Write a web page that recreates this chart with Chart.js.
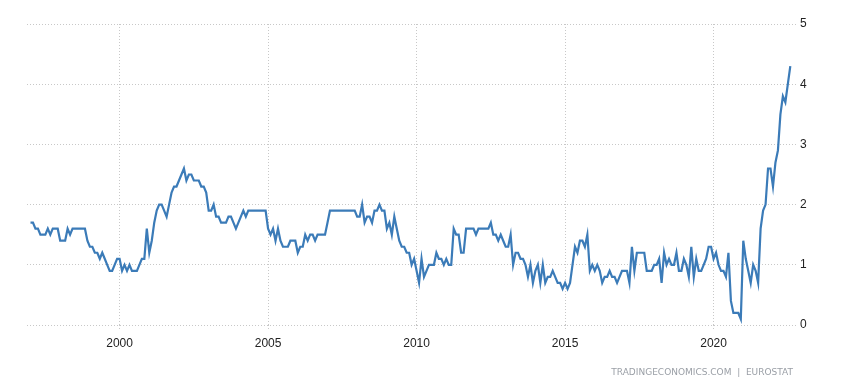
<!DOCTYPE html>
<html><head><meta charset="utf-8">
<script src="https://cdn.jsdelivr.net/npm/chart.js@4/dist/chart.umd.min.js"></script>
<style>html,body{margin:0;padding:0;background:#fff;} canvas{display:block;}</style>
</head><body>
<canvas id="c" width="847" height="392"></canvas>
<script>
const startYear = 1997;
const tickYears = [2000, 2005, 2010, 2015, 2020];
const yTicks = [0, 1, 2, 3, 4, 5];
const sourceText = 'TRADINGECONOMICS.COM  |  EUROSTAT';

const y1997 = [1.7, 1.7, 1.6, 1.6, 1.5, 1.5, 1.5, 1.6, 1.5, 1.6, 1.6, 1.6];
const y1998 = [1.4, 1.4, 1.4, 1.6, 1.5, 1.6, 1.6, 1.6, 1.6, 1.6, 1.6, 1.4];
const y1999 = [1.3, 1.3, 1.2, 1.2, 1.1, 1.2, 1.1, 1.0, 0.9, 0.9, 1.0, 1.1];
const y2000 = [1.1, 0.9, 1.0, 0.9, 1.0, 0.9, 0.9, 0.9, 1.0, 1.1, 1.1, 1.6];
const y2001 = [1.2, 1.4, 1.7, 1.9, 2.0, 2.0, 1.9, 1.8, 2.0, 2.2, 2.3, 2.3];
const y2002 = [2.4, 2.5, 2.6, 2.4, 2.5, 2.5, 2.4, 2.4, 2.4, 2.3, 2.3, 2.2];
const y2003 = [1.9, 1.9, 2.0, 1.8, 1.8, 1.7, 1.7, 1.7, 1.8, 1.8, 1.7, 1.6];
const y2004 = [1.7, 1.8, 1.9, 1.8, 1.9, 1.9, 1.9, 1.9, 1.9, 1.9, 1.9, 1.9];
const y2005 = [1.6, 1.5, 1.6, 1.4, 1.6, 1.4, 1.3, 1.3, 1.3, 1.4, 1.4, 1.4];
const y2006 = [1.2, 1.3, 1.3, 1.5, 1.4, 1.5, 1.5, 1.4, 1.5, 1.5, 1.5, 1.5];
const y2007 = [1.7, 1.9, 1.9, 1.9, 1.9, 1.9, 1.9, 1.9, 1.9, 1.9, 1.9, 1.9];
const y2008 = [1.8, 1.8, 2.0, 1.7, 1.8, 1.8, 1.7, 1.9, 1.9, 2.0, 1.9, 1.9];
const y2009 = [1.6, 1.7, 1.5, 1.8, 1.6, 1.4, 1.3, 1.3, 1.2, 1.2, 1.0, 1.1];
const y2010 = [0.9, 0.7, 1.1, 0.8, 0.9, 1.0, 1.0, 1.0, 1.2, 1.1, 1.1, 1.0];
const y2011 = [1.1, 1.0, 1.0, 1.6, 1.5, 1.5, 1.2, 1.2, 1.6, 1.6, 1.6, 1.6];
const y2012 = [1.5, 1.6, 1.6, 1.6, 1.6, 1.6, 1.7, 1.5, 1.5, 1.4, 1.5, 1.4];
const y2013 = [1.3, 1.3, 1.5, 1.0, 1.2, 1.2, 1.1, 1.1, 1.0, 0.8, 1.0, 0.7];
const y2014 = [0.9, 1.0, 0.7, 1.0, 0.7, 0.8, 0.8, 0.9, 0.8, 0.7, 0.7, 0.6];
const y2015 = [0.7, 0.6, 0.7, 1.0, 1.3, 1.2, 1.4, 1.4, 1.3, 1.5, 0.9, 1.0];
const y2016 = [0.9, 1.0, 0.9, 0.7, 0.8, 0.8, 0.9, 0.8, 0.8, 0.7, 0.8, 0.9];
const y2017 = [0.9, 0.9, 0.7, 1.3, 0.9, 1.2, 1.2, 1.2, 1.2, 0.9, 0.9, 0.9];
const y2018 = [1.0, 1.0, 1.1, 0.7, 1.2, 1.0, 1.1, 1.0, 1.0, 1.2, 0.9, 0.9];
const y2019 = [1.1, 1.0, 0.8, 1.3, 0.8, 1.1, 0.9, 0.9, 1.0, 1.1, 1.3, 1.3];
const y2020 = [1.1, 1.2, 1.0, 0.9, 0.9, 0.8, 1.2, 0.4, 0.2, 0.2, 0.2, 0.1];
const y2021 = [1.4, 1.1, 0.9, 0.7, 1.0, 0.9, 0.7, 1.6, 1.9, 2.0, 2.6, 2.6];
const y2022 = [2.3, 2.7, 2.9, 3.5, 3.8, 3.7, 4.0, 4.3];

const coreInflation = [].concat(y1997, y1998, y1999, y2000, y2001, y2002, y2003, y2004,
  y2005, y2006, y2007, y2008, y2009, y2010, y2011, y2012, y2013, y2014, y2015,
  y2016, y2017, y2018, y2019, y2020, y2021, y2022);

const points = coreInflation.map((v, i) => ({ x: i, y: v }));

const gridColor = '#c8c8c8';
const tickFont = { family: "'Liberation Sans Narrow', 'Arial Narrow', 'Liberation Sans', Arial, sans-serif", size: 12 };

const sourcePlugin = {
  id: 'source',
  afterDraw(chart) {
    const ctx = chart.ctx;
    ctx.save();
    ctx.font = "9px 'DejaVu Sans', Verdana, sans-serif";
    ctx.fillStyle = '#9a9fa6';
    ctx.textAlign = 'right';
    ctx.textBaseline = 'middle';
    ctx.fillText(sourceText, 793, 373);
    ctx.restore();
  }
};

new Chart(document.getElementById('c'), {
  type: 'line',
  data: {
    datasets: [{
      data: points,
      borderColor: '#3b7bb8',
      borderWidth: 2.2,
      pointRadius: 0,
      tension: 0,
      fill: false
    }]
  },
  options: {
    responsive: false,
    animation: false,
    devicePixelRatio: 1,
    layout: { padding: { left: 27, top: 24, right: 0, bottom: 0 } },
    plugins: { legend: { display: false }, tooltip: { enabled: false } },
    scales: {
      x: {
        type: 'linear',
        min: -1.41,
        max: 309.3,
        afterBuildTicks(scale) {
          scale.ticks = tickYears.map(y => ({ value: (y - startYear) * 12 }));
        },
        afterFit(scale) { scale.height = 67; },
        ticks: {
          callback: v => String(startYear + Math.round(v / 12)),
          color: '#222',
          font: tickFont,
          padding: 6,
          maxRotation: 0,
          autoSkip: false
        },
        grid: {
          color: gridColor,
          lineWidth: 1,
          drawTicks: true,
          tickLength: 5,
          tickColor: gridColor,
          tickBorderDash: [1, 2]
        },
        border: { display: false, dash: [1, 2] }
      },
      y: {
        position: 'right',
        min: 0,
        max: 5,
        afterBuildTicks(scale) {
          scale.ticks = yTicks.map(v => ({ value: v }));
        },
        afterFit(scale) { scale.width = 51; },
        ticks: {
          color: '#222',
          font: tickFont,
          padding: 4
        },
        grid: {
          color: gridColor,
          lineWidth: 1,
          drawTicks: false
        },
        border: { display: false, dash: [1, 2] }
      }
    }
  },
  plugins: [sourcePlugin]
});
</script>
</body></html>
